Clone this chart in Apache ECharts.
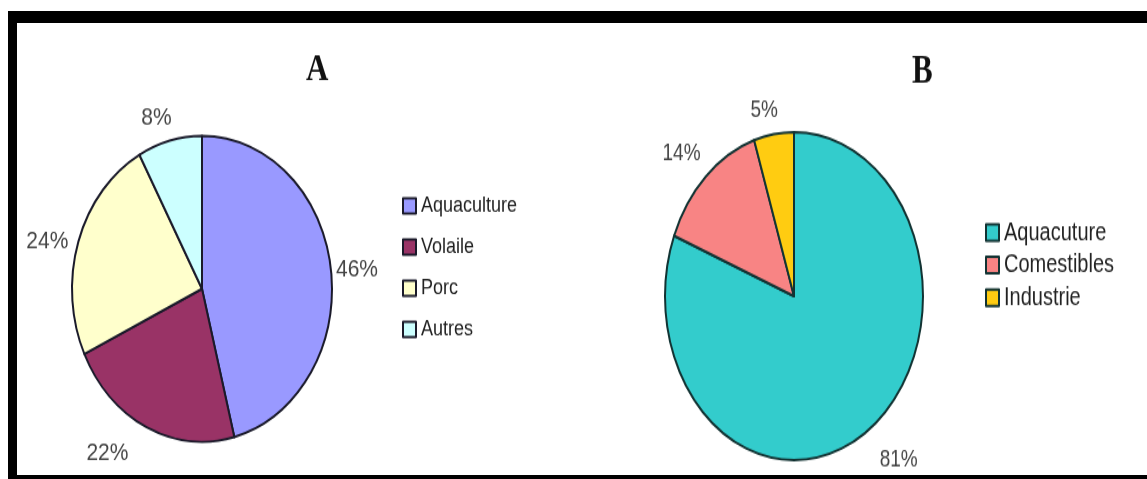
<!DOCTYPE html>
<html>
<head>
<meta charset="utf-8">
<script src="https://cdn.jsdelivr.net/npm/echarts@6/dist/echarts.min.js"></script>
<style>
  html, body { margin:0; padding:0; background:#fff; width:1147px; height:479px; overflow:hidden; }
  #frame { position:absolute; left:8px; top:11px; width:1160px; height:468px; box-sizing:border-box;
           border-top:12px solid #000; border-left:9px solid #000; border-bottom:4px solid #000; }
  #chartA { position:absolute; left:0; top:0; width:574px; height:408px; transform:scaleY(1.1765); transform-origin:0 0; }
  #chartB { position:absolute; left:574px; top:0; width:573px; height:377px; transform:scaleY(1.271); transform-origin:0 0; }
</style>
</head>
<body>
<div id="chartA"></div>
<div id="chartB"></div>
<div id="frame"></div>
<script>
// ---- data ----
const titleA = 'A';
const catA = ['Aquaculture', 'Volaile', 'Porc', 'Autres'];
const valA = [46, 22, 24, 8];
const colA = ['#9999FF', '#993366', '#FFFFCC', '#CCFFFF'];

const titleB = 'B';
const catB = ['Aquacuture', 'Comestibles', 'Industrie'];
const valB = [81, 14, 5];
const colB = ['#33CCCC', '#F88484', '#FFCC11'];

// label line lengths (style only, lines hidden) per slice: [length, length2]
const labLenA = [[0, 0], [24, 3], [0, 5], [20, -12]];
const labLenB = [[27, -7], [25, -17], [19, -12]];

function build(title, cats, vals, cols, lens, o) {
  return {
    animation: false,
    title: {
      text: title, left: o.titleLeft, top: o.titleTop, padding: 0,
      textStyle: { fontFamily: 'Liberation Serif', fontSize: 31, fontWeight: 'bold', color: '#111' }
    },
    legend: {
      orient: 'vertical', left: o.legLeft, top: o.legTop, padding: 0,
      itemWidth: 13, itemHeight: 13, itemGap: o.legGap, icon: 'rect',
      data: cats,
      textStyle: { fontFamily: 'Liberation Sans', fontSize: o.legFont, color: '#222', lineHeight: o.legFont }
    },
    series: [{
      type: 'pie',
      center: o.center,
      radius: o.radius,
      startAngle: 90,
      clockwise: true,
      avoidLabelOverlap: false,
      itemStyle: { borderColor: o.border, borderWidth: 2 },
      label: {
        show: true, position: 'outside', formatter: '{c}%',
        fontFamily: 'Liberation Sans', fontSize: o.labFont, color: '#444'
      },
      labelLine: { show: false },
      emphasis: { disabled: true },
      data: cats.map((c, i) => ({
        name: c, value: vals[i], itemStyle: { color: cols[i] },
        labelLine: { show: false, length: lens[i][0], length2: lens[i][1] }
      }))
    }]
  };
}

const chartA = echarts.init(document.getElementById('chartA'));
chartA.setOption(build(titleA, catA, valA, colA, labLenA, {
  titleLeft: 306, titleTop: 44, legLeft: 402, legTop: 166, legGap: 17, legFont: 18,
  center: [202, 245.5], radius: 130, border: '#1a1a2a', labFont: 21
}));

const chartB = echarts.init(document.getElementById('chartB'));
chartB.setOption(build(titleB, catB, valB, colB, labLenB, {
  titleLeft: 338, titleTop: 41, legLeft: 411, legTop: 173, legGap: 5.6, legFont: 20,
  center: [220, 233], radius: 129, border: '#123333', labFont: 19
}));
</script>
</body>
</html>
